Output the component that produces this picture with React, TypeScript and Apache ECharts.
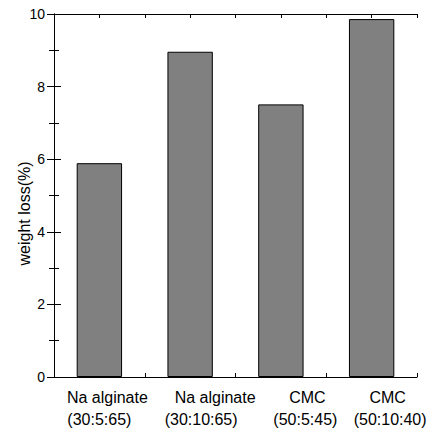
import React, { useEffect, useRef } from "react";
import * as echarts from "echarts";

const materials = ["Na alginate", "Na alginate", "CMC", "CMC"];
const ratios = ["(30:5:65)", "(30:10:65)", "(50:5:45)", "(50:10:40)"];
const weightLoss = [5.89, 8.96, 7.51, 9.86];
const yMin = 0;
const yMax = 10;
const yInterval = 2;

// horizontal shift (px) of each label line relative to its category centre, as in the reference
const labelShift = [
  [8, 0],
  [25, 11],
  [26.5, 24.5],
  [16, 18.5],
];

export default function App() {
  const ref = useRef<HTMLDivElement>(null);
  useEffect(() => {
    const chart = echarts.init(ref.current!, null, { renderer: "svg" });
    const font = "Liberation Sans, Arial, sans-serif";
    const categories = materials.map((m, i) => m + " " + ratios[i]);
    const rich: Record<string, any> = {};
    labelShift.forEach((s, i) => {
      rich["a" + i] = { fontFamily: font, fontSize: 16, color: "#000", lineHeight: 22, align: "center", padding: [0, 0, 0, 2 * s[0]] };
      rich["b" + i] = { fontFamily: font, fontSize: 16, color: "#000", lineHeight: 22, align: "center", padding: [0, 0, 0, 2 * s[1]] };
    });
    const tickAxis = (position: "bottom" | "top") => ({
      type: "value",
      position,
      min: 0,
      max: categories.length,
      interval: 0.5,
      axisLine: { show: true, lineStyle: { color: "#000", width: 1 } },
      axisTick: { show: true, inside: true, length: 4, lineStyle: { color: "#000", width: 1 } },
      axisLabel: { show: false },
      splitLine: { show: false },
    });
    const yAx = (position: "left" | "right", labels: boolean) => ({
      type: "value",
      position,
      min: yMin,
      max: yMax,
      interval: yInterval,
      name: labels ? "weight loss(%)" : "",
      nameLocation: "middle",
      nameGap: 22,
      nameMoveOverlap: false,
      nameTextStyle: { fontFamily: font, fontSize: 16, color: "#000", padding: [0, 36, 0, 0] },
      axisLine: { show: true, lineStyle: { color: "#000", width: 1 } },
      axisTick: { show: true, inside: true, length: 7, lineStyle: { color: "#000", width: 1 } },
      minorTick: { show: true, splitNumber: 2, length: 5, lineStyle: { color: "#000", width: 1 } },
      axisLabel: { show: labels, fontFamily: font, fontSize: 14, color: "#000", margin: 9 },
      splitLine: { show: false },
    });
    chart.setOption({
      animation: false,
      backgroundColor: "#fff",
      grid: { left: 54, right: 12, top: 14, bottom: 55, containLabel: false, outerBoundsMode: "none" },
      xAxis: [
        {
          type: "category",
          data: categories,
          position: "bottom",
          axisLine: { show: false },
          axisTick: { show: false },
          axisLabel: {
            fontFamily: font,
            fontSize: 16,
            color: "#000",
            margin: 9,
            interval: 0,
            hideOverlap: false,
            formatter: (_v: string, i: number) => `{a${i}|${materials[i]}}\n{b${i}|${ratios[i]}}`,
            rich,
          },
        },
        tickAxis("bottom"),
        tickAxis("top"),
      ],
      yAxis: [yAx("left", true), yAx("right", false)],
      series: [
        {
          type: "bar",
          xAxisIndex: 0,
          yAxisIndex: 0,
          data: weightLoss,
          barWidth: "50%",
          itemStyle: { color: "#808080", borderColor: "#000", borderWidth: 1 },
        },
      ],
    });
    return () => chart.dispose();
  }, []);
  return <div ref={ref} style={{ width: 429, height: 432, position: "absolute", left: 0, top: 0 }} />;
}
